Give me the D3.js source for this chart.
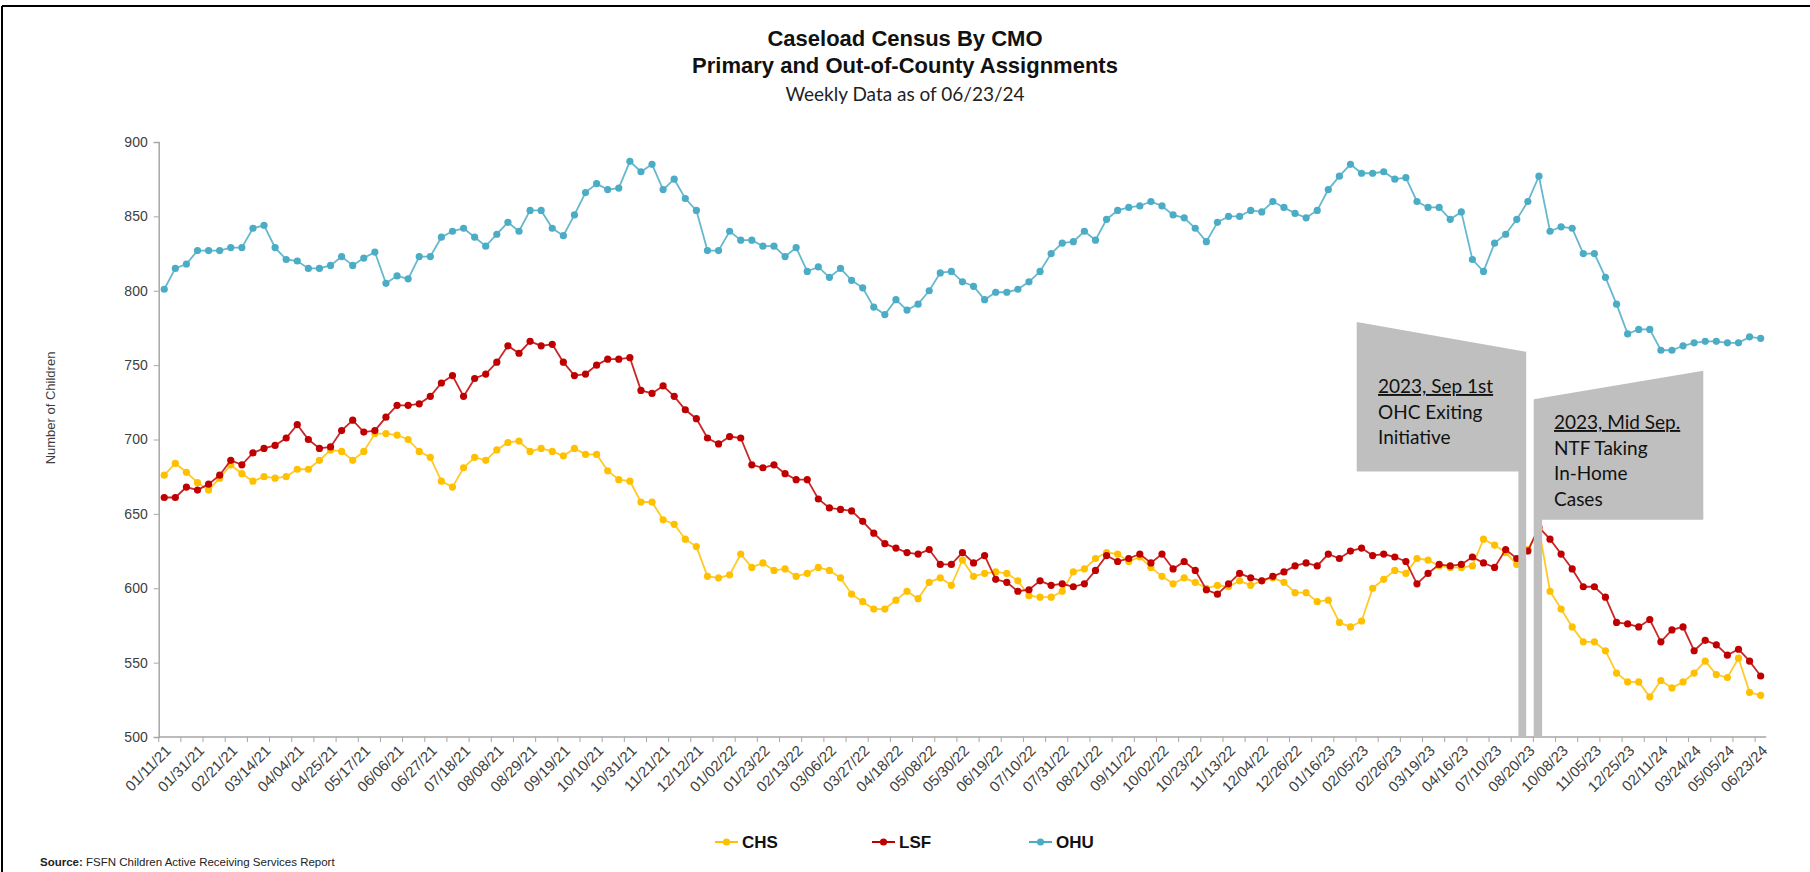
<!DOCTYPE html>
<html>
<head>
<meta charset="utf-8">
<style>
body { margin: 0; background: #fff; }
svg { display: block; }
</style>
</head>
<body>
<script src="https://d3js.org/d3.v7.min.js"></script>
<script>

// Tick labels, one every third week
let tickLabels = ["01/11/21","01/31/21","02/21/21","03/14/21","04/04/21","04/25/21","05/17/21","06/06/21",
    "06/27/21","07/18/21","08/08/21","08/29/21","09/19/21","10/10/21","10/31/21","11/21/21","12/12/21",
    "01/02/22","01/23/22","02/13/22","03/06/22","03/27/22","04/18/22","05/08/22","05/30/22","06/19/22",
    "07/10/22","07/31/22","08/21/22","09/11/22","10/02/22","10/23/22","11/13/22","12/04/22","12/26/22",
    "01/16/23","02/05/23","02/26/23","03/19/23","04/16/23","07/10/23","08/20/23","10/08/23","11/05/23",
    "12/25/23","02/11/24","03/24/24","05/05/24","06/23/24"];

let chs = [676,684,678,671,666,674,683,677,672,675,674,675,680,680,686,693,692,686,692,704,
    704,703,700,692,688,672,668,681,688,686,693,698,699,692,694,692,689,694,690,690,
    679,673,672,658,658,646,643,633,628,608,607,609,623,614,617,612,613,608,610,614,
    612,607,596,591,586,586,592,598,593,604,607,602,619,608,610,611,610,605,595,594,
    594,598,611,613,620,624,623,618,621,614,608,603,607,604,600,602,601,605,602,605,
    607,604,597,597,591,592,577,574,578,600,606,612,610,620,619,615,614,614,615,633,
    629,624,616,626,640,598,586,574,564,564,558,543,537,537,527,538,533,537,543,551,
    542,540,553,530,528];

let lsf = [661,661,668,666,670,676,686,683,691,694,696,701,710,700,694,695,706,713,705,706,
    715,723,723,724,729,738,743,729,741,744,752,763,758,766,763,764,752,743,744,750,
    754,754,755,733,731,736,729,720,714,701,697,702,701,683,681,683,677,673,673,660,
    654,653,652,645,637,630,627,624,623,626,616,616,624,617,622,606,604,598,599,605,
    602,603,601,603,612,622,618,620,623,617,623,613,618,612,599,596,603,610,607,605,
    608,611,615,617,615,623,620,625,627,622,623,621,618,603,610,616,615,616,621,617,
    614,626,620,625,641,633,623,613,601,601,594,577,576,574,579,564,572,574,558,565,
    562,555,559,551,541];

let ohu = [801,815,818,827,827,827,829,829,842,844,829,821,820,815,815,817,823,817,822,826,
    805,810,808,823,823,836,840,842,836,830,838,846,840,854,854,842,837,851,866,872,
    868,869,887,880,885,868,875,862,854,827,827,840,834,834,830,830,823,829,813,816,
    809,815,807,802,789,784,794,787,791,800,812,813,806,803,794,799,799,801,806,813,
    825,832,833,840,834,848,854,856,857,860,857,851,849,842,833,846,850,850,854,853,
    860,856,852,849,854,868,877,885,879,879,880,875,876,860,856,856,848,853,821,813,
    832,838,848,860,877,840,843,842,825,825,809,791,771,774,774,760,760,763,765,766,
    766,765,765,769,768];

let seriesNames = ["CHS", "LSF", "OHU"];
let seriesValues = [chs, lsf, ohu];
let colors = ["#ffc000", "#c00000", "#4bacc6"];
let yTicks = [500, 550, 600, 650, 700, 750, 800, 850, 900];

let width = 1810;
let height = 872;
let svg = d3.select("body").append("svg")
    .attr("width", width)
    .attr("height", height);

// frame
svg.append("line").attr("x1", 2).attr("y1", 6).attr("x2", width).attr("y2", 6)
    .attr("stroke", "#000").attr("stroke-width", 2);
svg.append("line").attr("x1", 2).attr("y1", 6).attr("x2", 2).attr("y2", height)
    .attr("stroke", "#000").attr("stroke-width", 2);

// titles
svg.append("text").attr("x", 905).attr("y", 46).attr("text-anchor", "middle")
    .style("font", "bold 22px 'Liberation Sans', Arial, sans-serif").attr("fill", "#111")
    .text("Caseload Census By CMO");
svg.append("text").attr("x", 905).attr("y", 73).attr("text-anchor", "middle")
    .style("font", "bold 22px 'Liberation Sans', Arial, sans-serif").attr("fill", "#111")
    .text("Primary and Out-of-County Assignments");
svg.append("text").attr("x", 905).attr("y", 101).attr("text-anchor", "middle")
    .style("font", "19px Lato, sans-serif").attr("fill", "#222")
    .text("Weekly Data as of 06/23/24");

// scales
let x = d3.scaleBand()
    .domain(d3.range(ohu.length))
    .range([158.7, 1766.2]);
let cx = i => x(i) + x.bandwidth() / 2;
let y = d3.scaleLinear()
    .domain([500, 900])
    .range([737, 142]);

// y axis
let yAxis = svg.append("g")
    .attr("transform", "translate(158.7,0)")
    .call(d3.axisLeft(y).tickValues(yTicks).tickSize(5).tickPadding(6));
yAxis.select(".domain").attr("stroke", "#a6a6a6").attr("stroke-width", 1.5);
yAxis.selectAll(".tick line").attr("stroke", "#a6a6a6");
yAxis.selectAll(".tick text")
    .style("font", "14px 'Liberation Sans', Arial, sans-serif").attr("fill", "#404040");

svg.append("text")
    .attr("transform", "translate(50,408) rotate(-90)")
    .attr("dy", "0.35em")
    .attr("text-anchor", "middle")
    .style("font", "13px 'Liberation Sans', Arial, sans-serif").attr("fill", "#404040")
    .text("Number of Children");

// x axis line and ticks every 2 categories
svg.append("line")
    .attr("x1", 158.7).attr("x2", 1766.2)
    .attr("y1", y(500)).attr("y2", y(500))
    .attr("stroke", "#a6a6a6").attr("stroke-width", 1.5);
let tickIdx = d3.range(0, ohu.length, 2);
svg.selectAll(".xtick")
    .data(tickIdx)
    .join("line")
    .attr("class", "xtick")
    .attr("x1", d => x(d)).attr("x2", d => x(d))
    .attr("y1", y(500)).attr("y2", y(500) + 5)
    .attr("stroke", "#a6a6a6");

svg.selectAll(".xlabel")
    .data(tickLabels)
    .join("text")
    .attr("class", "xlabel")
    .attr("text-anchor", "end")
    .attr("transform", (d, k) => "translate(" + (cx(k * 3) + 4) + "," + (y(500) + 11) + ") rotate(-45)")
    .attr("dy", "0.35em")
    .style("font", "15px 'Liberation Sans', Arial, sans-serif").attr("fill", "#404040")
    .text(d => d);

// series lines and markers
let line = d3.line()
    .x((d, i) => cx(i))
    .y(d => y(d));

seriesValues.forEach((vals, s) => {
    svg.append("path")
        .datum(vals)
        .attr("d", line)
        .attr("fill", "none")
        .attr("stroke", colors[s])
        .attr("stroke-width", 1.8)
        .attr("stroke-opacity", 0.85);
    svg.append("g").selectAll("circle")
        .data(vals)
        .join("circle")
        .attr("cx", (d, i) => cx(i))
        .attr("cy", d => y(d))
        .attr("r", 3.6)
        .attr("fill", colors[s]);
});

// callouts
let bar1 = x(123);
let bar2 = cx(124) - 1;
let callouts = [
    {
        points: [[1356.7, y(779)], [bar1 + 3.9, y(759)], [bar1 + 3.9, y(500)], [bar1 - 3.9, y(500)],
                 [bar1 - 3.9, y(678.5)], [1356.7, y(678.5)]],
        tx: 1378, ty: [393, 419, 444],
        lines: ["2023, Sep 1st", "OHC Exiting", "Initiative"]
    },
    {
        points: [[bar2 - 4.2, y(727)], [1703.3, y(746.3)], [1703.3, y(646)], [bar2 + 4.2, y(646)],
                 [bar2 + 4.2, y(500)], [bar2 - 4.2, y(500)]],
        tx: 1554, ty: [429, 455, 480, 506],
        lines: ["2023, Mid Sep.", "NTF Taking", "In-Home", "Cases"]
    }
];
callouts.forEach(c => {
    svg.append("polygon")
        .attr("points", c.points.map(p => p.join(",")).join(" "))
        .attr("fill", "#bfbfbf");
    c.lines.forEach((t, j) => {
        svg.append("text")
            .attr("x", c.tx).attr("y", c.ty[j])
            .style("font", "19px Lato, sans-serif")
            .style("text-decoration", j === 0 ? "underline" : "none")
            .attr("fill", "#111")
            .text(t);
    });
});

// legend
let legendX = [715, 872, 1029];
let legend = svg.append("g");
seriesNames.forEach((name, s) => {
    let g = legend.append("g").attr("transform", "translate(" + legendX[s] + ",842)");
    g.append("line").attr("x1", 0).attr("x2", 23).attr("y1", 0).attr("y2", 0)
        .attr("stroke", colors[s]).attr("stroke-width", 2);
    g.append("circle").attr("cx", 11.5).attr("cy", 0).attr("r", 3.6).attr("fill", colors[s]);
    g.append("text").attr("x", 27).attr("y", 0).attr("dy", "0.35em")
        .style("font", "bold 17px 'Liberation Sans', Arial, sans-serif")
        .attr("fill", "#111")
        .text(name);
});

// source
let src = svg.append("text").attr("x", 40).attr("y", 866)
    .style("font", "11.5px 'Liberation Sans', Arial, sans-serif").attr("fill", "#222");
src.append("tspan").style("font-weight", "bold").text("Source:");
src.append("tspan").text("  FSFN Children Active Receiving Services Report");

</script>
</body>
</html>
